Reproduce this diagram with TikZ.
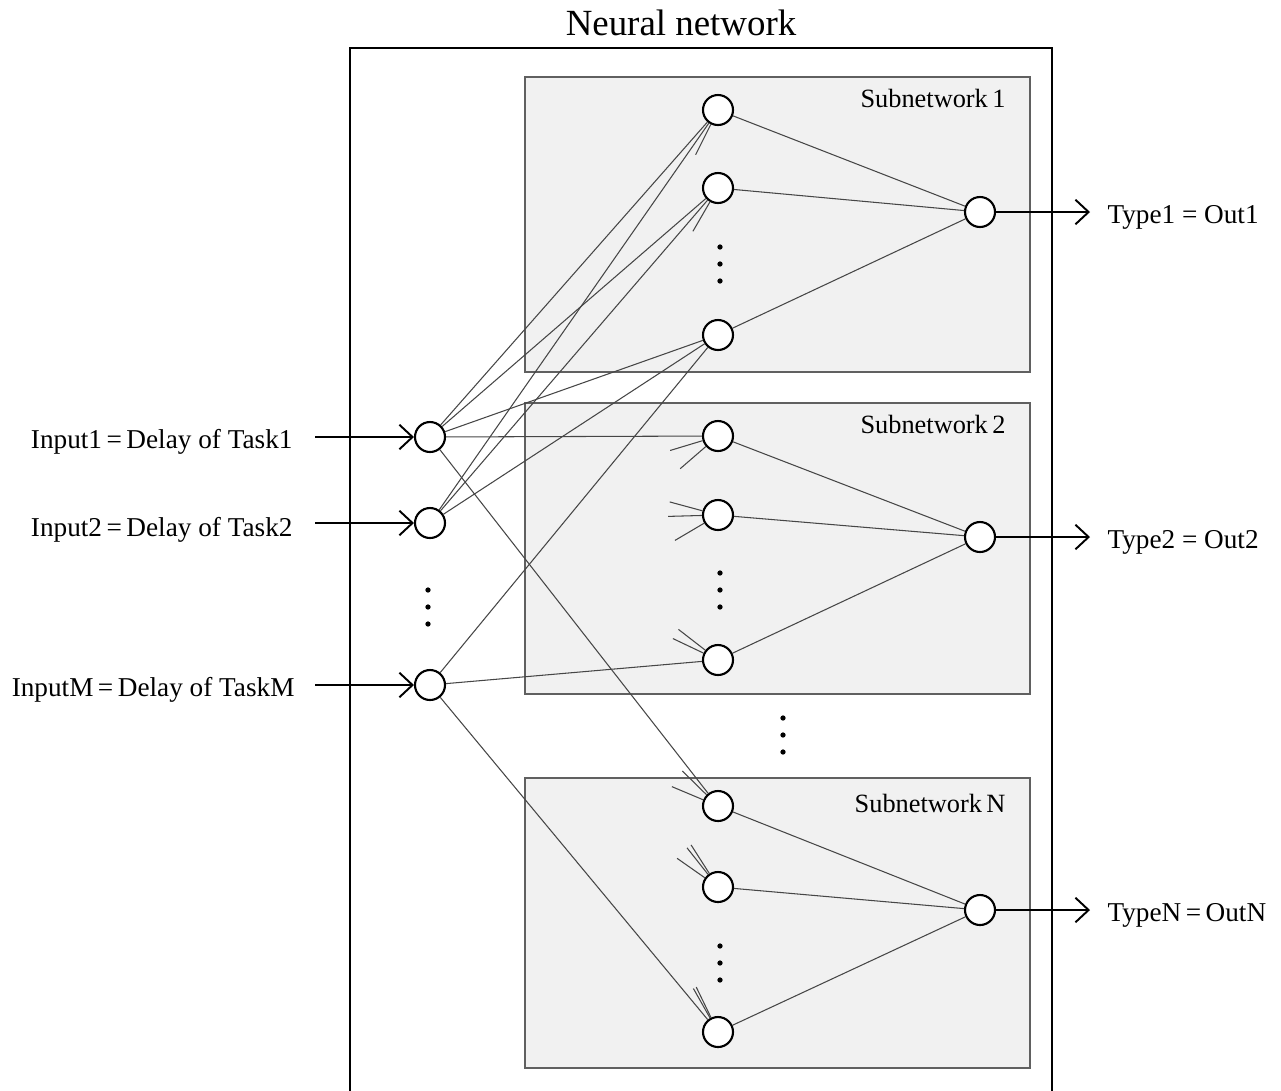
\documentclass[tikz,border=0pt]{standalone}
\usepackage{fontspec}
\setmainfont{Liberation Serif}
\usetikzlibrary{arrows.meta,calc}

\begin{document}
\begin{tikzpicture}[
	>={Straight Barb[length=7.5pt,width=14pt]},
	line width=0.6pt,
	x=0.02cm,y=-0.02cm,
	font=\fontsize{15.5}{15.5}\selectfont,
	unit/.style={circle, draw=black, line width=1.2pt, fill=white, minimum size=0.6cm, inner sep=0pt},
	link/.style={gray!55!black, line width=0.6pt},
	io/.style={->, line width=1.1pt},
	subnet/.style={draw=gray!75!black, fill=gray!11, line width=0.8pt},
	sublabel/.style={anchor=base east, inner sep=0pt, font=\fontsize{15}{15}\selectfont}
	]
\useasboundingbox (0,0) rectangle (1281,1090);

% begin boxes
\node[anchor=base, font=\fontsize{21}{21}\selectfont] (title) at (681,35) {Neural network};
\draw[line width=1.4pt] (350,1100) -- (350,48) -- (1052,48) -- (1052,1100);

\draw[subnet] (525,77) rectangle (1030,372);
\draw[subnet] (525,403) rectangle (1030,694);
\draw[subnet] (525,778) rectangle (1030,1068);

\node[sublabel] (sub1_lbl) at (1006,107) {Subnetwork\,1};
\node[sublabel] (sub2_lbl) at (1006,433) {Subnetwork\,2};
\node[sublabel] (subn_lbl) at (1006,812) {Subnetwork\,N};
% end boxes

% dots
\foreach \x/\y in {428/607, 720/264, 720/590, 720/963, 783/735}
{
\fill (\x,\y-17) circle (1.5pt);
\fill (\x,\y) circle (1.5pt);
\fill (\x,\y+17) circle (1.5pt);
}

			\node[unit] (in1)   at (430,437) {};
			\node[unit] (in2)   at (430,523) {};
			\node[unit] (inm)   at (430,685) {};
			\node[unit] (h1_1)   at (718,110) {};
			\node[unit] (h1_2)   at (718,188) {};
			\node[unit] (h1_3)   at (718,335) {};
			\node[unit] (h2_1)   at (718,436) {};
			\node[unit] (h2_2)   at (718,515) {};
			\node[unit] (h2_3)   at (718,660) {};
			\node[unit] (hn_1)   at (718,806) {};
			\node[unit] (hn_2)   at (718,887) {};
			\node[unit] (hn_3)   at (718,1032) {};
			\node[unit] (out1)   at (980,212) {};
			\node[unit] (out2)   at (980,537) {};
			\node[unit] (outn)   at (980,910) {};

			\node[anchor=base east, inner sep=0pt] (in1_lbl)   at (293,448) {Input1\,=\,Delay of Task1};
			\node[anchor=base east, inner sep=0pt] (in2_lbl)   at (293,536) {Input2\,=\,Delay of Task2};
			\node[anchor=base east, inner sep=0pt] (inm_lbl)   at (295,696) {InputM\,=\,Delay of TaskM};
			\node[anchor=base west, inner sep=0pt] (out1_lbl)   at (1107,223) {Type1 = Out1};
			\node[anchor=base west, inner sep=0pt] (out2_lbl)   at (1107,548) {Type2 = Out2};
			\node[anchor=base west, inner sep=0pt] (outn_lbl)   at (1107,921) {TypeN\,=\,OutN};

			\coordinate (in1_start)   at (315,437);
			\coordinate (in2_start)   at (315,523);
			\coordinate (inm_start)   at (315,685);
			\coordinate (out1_end)   at (1090,212);
			\coordinate (out2_end)   at (1090,537);
			\coordinate (outn_end)   at (1090,910);

			% inputs to hidden units
			\draw[link] (in1) -- (h1_1);
			\draw[link] (in1) -- (h1_2);
			\draw[link] (in1) -- (h1_3);
			\draw[link] (in2) -- (h1_1);
			\draw[link] (in2) -- (h1_2);
			\draw[link] (in2) -- (h1_3);
			\draw[link] (inm) -- (h1_3);
			\draw[link] (in1) -- (h2_1);
			\draw[link] (inm) -- (h2_3);
			\draw[link] (in1) -- (hn_1);
			\draw[link] (inm) -- (hn_3);

			% short stubs
			\draw[link] (h1_1) -- ($(h1_1)!1cm!(inm)$);
			\draw[link] (h1_2) -- ($(h1_2)!1cm!(inm)$);
			\draw[link] (h2_1) -- ($(h2_1)!1cm!(in2)$);
			\draw[link] (h2_1) -- ($(h2_1)!1cm!(inm)$);
			\draw[link] (h2_2) -- ($(h2_2)!1cm!(in1)$);
			\draw[link] (h2_2) -- ($(h2_2)!1cm!(in2)$);
			\draw[link] (h2_2) -- ($(h2_2)!1cm!(inm)$);
			\draw[link] (h2_3) -- ($(h2_3)!1cm!(in1)$);
			\draw[link] (h2_3) -- ($(h2_3)!1cm!(in2)$);
			\draw[link] (hn_1) -- ($(hn_1)!1cm!(in2)$);
			\draw[link] (hn_1) -- ($(hn_1)!1cm!(inm)$);
			\draw[link] (hn_2) -- ($(hn_2)!1cm!(in1)$);
			\draw[link] (hn_2) -- ($(hn_2)!1cm!(in2)$);
			\draw[link] (hn_2) -- ($(hn_2)!1cm!(inm)$);
			\draw[link] (hn_3) -- ($(hn_3)!1cm!(in1)$);
			\draw[link] (hn_3) -- ($(hn_3)!1cm!(in2)$);

			% hidden units to outputs
			\draw[link] (h1_1) -- (out1);
			\draw[link] (h1_2) -- (out1);
			\draw[link] (h1_3) -- (out1);
			\draw[link] (h2_1) -- (out2);
			\draw[link] (h2_2) -- (out2);
			\draw[link] (h2_3) -- (out2);
			\draw[link] (hn_1) -- (outn);
			\draw[link] (hn_2) -- (outn);
			\draw[link] (hn_3) -- (outn);

			\draw[io] (in1_start) -- (in1);
			\draw[io] (in2_start) -- (in2);
			\draw[io] (inm_start) -- (inm);
			\draw[io] (out1) -- (out1_end);
			\draw[io] (out2) -- (out2_end);
			\draw[io] (outn) -- (outn_end);

\end{tikzpicture}
\end{document}
